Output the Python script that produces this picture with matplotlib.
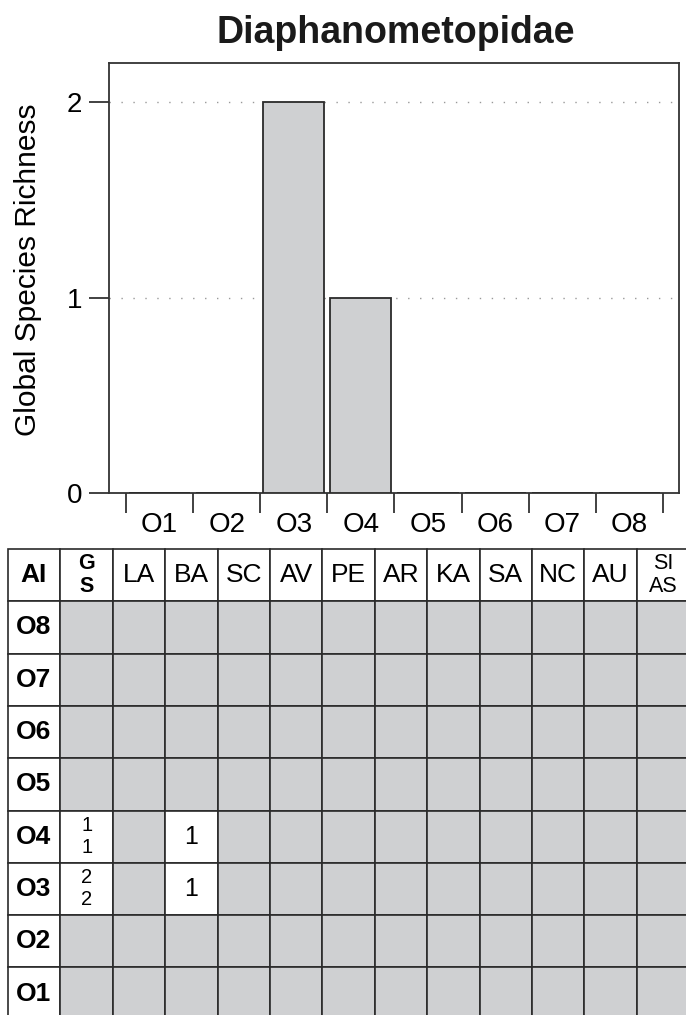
import numpy as np
import matplotlib
matplotlib.use("Agg")
import matplotlib.pyplot as plt
from matplotlib.patches import Rectangle

plt.rcParams['font.family'] = ['Liberation Sans', 'DejaVu Sans']

# -------- Données --------
famille = "Diaphanometopidae"
categories = ['O1', 'O2', 'O3', 'O4', 'O5', 'O6', 'O7', 'O8']
richesse = [0, 0, 2, 1, 0, 0, 0, 0]

colonnes = ['AI', 'G\nS', 'LA', 'BA', 'SC', 'AV', 'PE', 'AR', 'KA', 'SA', 'NC', 'AU', 'SI\nAS']
lignes = ['O8', 'O7', 'O6', 'O5', 'O4', 'O3', 'O2', 'O1']
# valeurs par ligne (GS, LA, BA, ... SIAS) ; '' = case grise
valeurs = [
    ['', '', '', '', '', '', '', '', '', '', '', ''],
    ['', '', '', '', '', '', '', '', '', '', '', ''],
    ['', '', '', '', '', '', '', '', '', '', '', ''],
    ['', '', '', '', '', '', '', '', '', '', '', ''],
    ['1\n1', '', '1', '', '', '', '', '', '', '', '', ''],
    ['2\n2', '', '1', '', '', '', '', '', '', '', '', ''],
    ['', '', '', '', '', '', '', '', '', '', '', ''],
    ['', '', '', '', '', '', '', '', '', '', '', ''],
]

GRIS = '#cfd0d2'
TRAIT = '#2a2a2a'
W, H = 686, 1015

fig = plt.figure(figsize=(W / 100, H / 100), dpi=100)

# -------- Titre --------
fig.text(396 / W, 1 - 43 / H, famille, ha='center', va='baseline',
         fontsize=27, fontweight='bold', color='#1a1a1a')

# -------- Diagramme en barres --------
ax = fig.add_axes([109 / W, 1 - 493 / H, 570 / W, 430 / H])
x = np.arange(len(categories))
for y in [1, 2]:
    ax.axhline(y, color='#999999', lw=1, ls=(0, (1, 7.6)), zorder=1)
ax.bar(x, richesse, width=0.91, color=GRIS, edgecolor='#2a2a2a', linewidth=1.3, zorder=3)
ax.set_xlim(-0.754, 7.74)
ax.set_ylim(0, 2.2)
for s in ax.spines.values():
    s.set_linewidth(1.3)
    s.set_color('#333333')

ax.set_yticks([0, 1, 2])
ax.tick_params(axis='y', length=14.4, width=1.3, color='#333333', labelsize=20, pad=5)
ax.set_xticks(np.arange(-0.5, 8, 1))
ax.set_xticklabels([])
ax.tick_params(axis='x', which='major', length=14.4, width=1.3, color='#333333')
ax.set_xticks(x, minor=True)
ax.set_xticklabels(categories, minor=True)
ax.tick_params(axis='x', which='minor', length=0, labelsize=20, pad=14)

ax.set_ylabel('Global Species Richness', fontsize=21.5)
ax.yaxis.set_label_coords(-0.118, 0.52)

# -------- Tableau --------
larg_col, haut_lig = 52.4, 52.3
n_col, n_lignes = len(colonnes), len(lignes) + 1
tab = fig.add_axes([8 / W, 1 - (549 + n_lignes * haut_lig) / H,
                    n_col * larg_col / W, n_lignes * haut_lig / H])
tab.set_xlim(0, n_col)
tab.set_ylim(0, n_lignes)
tab.axis('off')

def case(j, i, couleur):
    tab.add_patch(Rectangle((j, i), 1, 1, facecolor=couleur,
                            edgecolor=TRAIT, linewidth=1.2, clip_on=False))

# ligne d'en-tête
yh = n_lignes - 1
for j, nom in enumerate(colonnes):
    case(j, yh, 'white')
    if j == 0:
        tab.text(0.24, yh + 0.5, nom, ha='left', va='center',
                 fontsize=19, fontweight='bold')
    elif '\n' in nom:
        tab.text(j + 0.5, yh + 0.5, nom, ha='center', va='center', fontsize=15.5,
                 linespacing=1.15, fontweight='bold' if j == 1 else 'normal')
    else:
        tab.text(j + 0.5, yh + 0.5, nom, ha='center', va='center', fontsize=19)

# lignes O8 ... O1
for k, nom in enumerate(lignes):
    yi = n_lignes - 2 - k
    case(0, yi, 'white')
    tab.text(0.15, yi + 0.5, nom, ha='left', va='center', fontsize=19, fontweight='bold')
    for j, v in enumerate(valeurs[k]):
        col = j + 1
        case(col, yi, 'white' if v else GRIS)
        if v:
            if '\n' in v:
                tab.text(col + 0.5, yi + 0.5, v, ha='center', va='center',
                         fontsize=14.5, linespacing=1.2)
            else:
                tab.text(col + 0.5, yi + 0.5, v, ha='center', va='center', fontsize=18)

fig.savefig('out.png', dpi=100)
